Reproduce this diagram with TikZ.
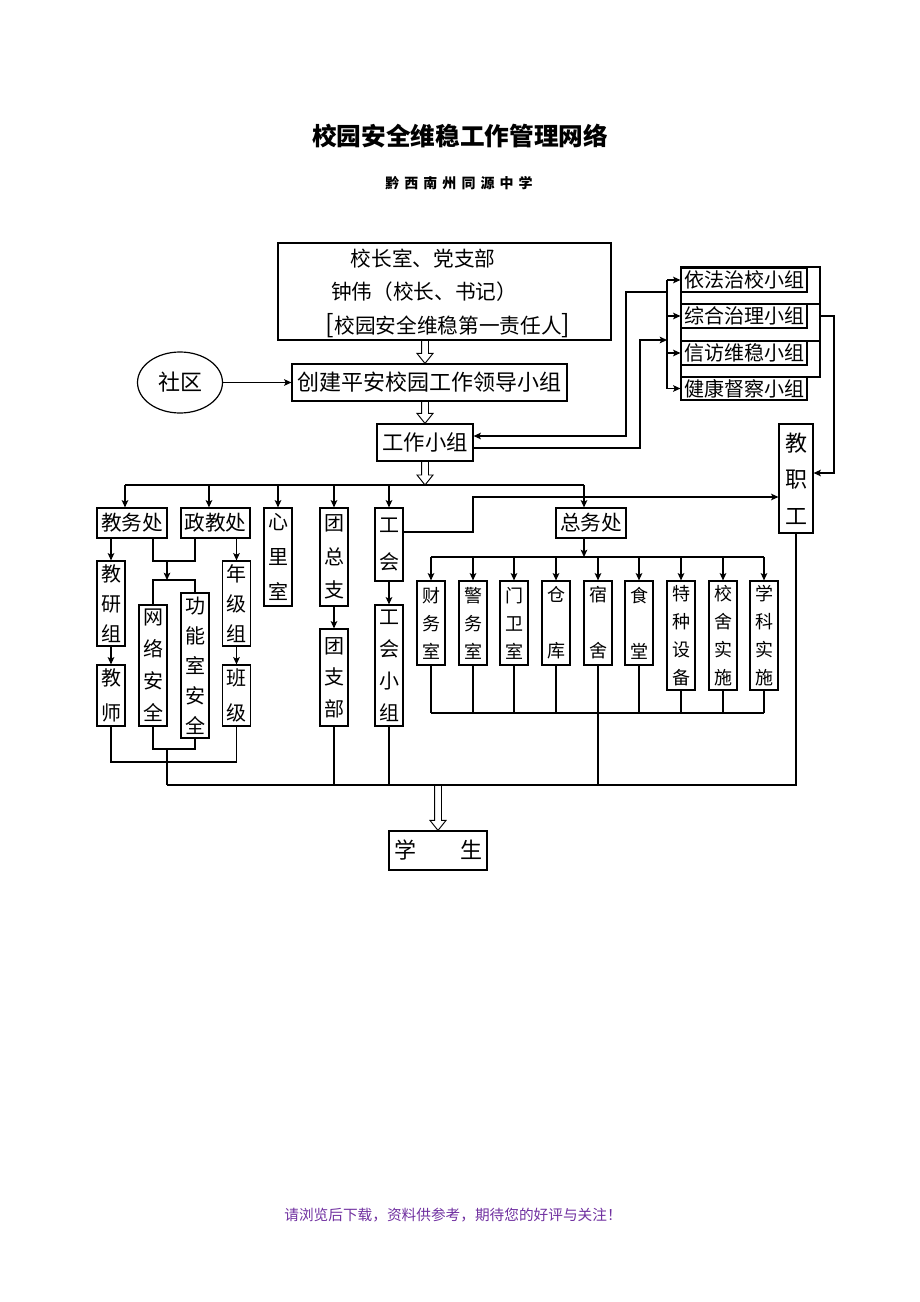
\documentclass[tikz,border=0pt]{standalone}
\usepackage{fontspec}
\setmainfont{Noto Sans CJK SC}
\usetikzlibrary{arrows.meta,calc,shapes.geometric}
\definecolor{footpurple}{RGB}{112,48,160}

\newcommand{\hollowarrow}[2]{%
  \draw[line width=0.7pt] let \p1=(#1), \p2=(#2) in
    (\x1-2.6pt,\y1) -- (\x1-2.6pt,\y2+7.5pt) -- (\x1-6pt,\y2+7.5pt) -- (\x1,\y2)
    -- (\x1+6pt,\y2+7.5pt) -- (\x1+2.6pt,\y2+7.5pt) -- (\x1+2.6pt,\y1);}

\begin{document}
\begin{tikzpicture}[x=0.75pt, y=-0.75pt, line width=0.9pt,
  sz/.style 2 args={minimum width=#1*0.75pt, minimum height=#2*0.75pt},
  box/.style={draw, inner sep=0pt, font=\fontsize{15.5}{18}\selectfont},
  vbox/.style={draw, inner sep=0pt, align=center, font=\fontsize{15}{#1}\selectfont},
  sbox/.style={draw, inner sep=0pt, align=center, font=\fontsize{13.5}{21}\selectfont},
  arr/.style={-{Stealth[length=5.5pt, width=5pt, inset=1.2pt]}}]

  \useasboundingbox (0,0) rectangle (920,1302);

  \node[font=\fontsize{18.5}{20}\selectfont\bfseries] (title) at (460,136) {校园安全维稳工作管理网络};
  \node[font=\fontsize{10.5}{12}\selectfont\bfseries] (sub) at (459,183)
    {黔\hspace{3.8pt}西\hspace{3.8pt}南\hspace{3.8pt}州\hspace{3.8pt}同\hspace{3.8pt}源\hspace{3.8pt}中\hspace{3.8pt}学};

  % leadership
  \node[draw, sz={333}{97}] (xzs) at (444.5,291.5) {};
  \node[font=\fontsize{15.5}{18}\selectfont] (xzs1) at (423,259) {校长室、党支部};
  \node[font=\fontsize{15.5}{18}\selectfont] (xzs2) at (424,292) {钟伟（校长、书记）};
  \node[font=\fontsize{15.5}{18}\selectfont] (xzs3) at (448,326)
    {{\fontsize{19}{19}\selectfont[}校园安全维稳第一责任人{\fontsize{19}{19}\selectfont]}};
  \node[box, font=\fontsize{16.5}{18}\selectfont, sz={275}{37}] (cj) at (429.5,382.5) {创建平安校园工作领导小组};
  \node[draw, ellipse, inner sep=0pt, font=\fontsize{16.5}{18}\selectfont, sz={85}{61}] (sq) at (180,382.5) {社区};
  \node[box, font=\fontsize{16}{18}\selectfont, sz={96}{37}] (gzxz) at (425,442.5) {工作小组};

  % right groups
  \foreach \n/\y/\h in {f1/285.5/37, f2/322.5/37, f3/359/36}
    \node[draw, sz={139}{\h}] (\n) at (750.5,\y) {};
  \node[box, font=\fontsize{15}{18}\selectfont, sz={126}{24}] (yf) at (744,280) {依法治校小组};
  \node[box, font=\fontsize{15}{18}\selectfont, sz={126}{24}] (zh) at (744,316) {综合治理小组};
  \node[box, font=\fontsize{15}{18}\selectfont, sz={126}{24}] (xf) at (744,353) {信访维稳小组};
  \node[box, font=\fontsize{15}{18}\selectfont, sz={126}{23}] (jk) at (744,388.5) {健康督察小组};
  \node[draw, inner sep=0pt, align=center, font=\fontsize{16.5}{27.5}\selectfont, sz={34}{109}] (jzg) at (796,478.5) {教\\职\\工};

  % departments
  \node[box, sz={70}{30}] (jwc) at (132,523) {教务处};
  \node[box, sz={69}{30}] (zjc) at (215.5,523) {政教处};
  \node[vbox=26, sz={28}{98}] (xl) at (278,557) {心\\里\\室};
  \node[vbox=25, sz={28}{98}] (tzz) at (334,557) {团\\总\\支};
  \node[vbox=23.5, sz={28}{97}] (tzb) at (334,677.5) {团\\支\\部};
  \node[vbox=27.5, sz={28}{73}] (gh) at (389,544.5) {工\\会};
  \node[vbox=24, sz={28}{121}] (ghxz) at (389,665.5) {工\\会\\小\\组};
  \node[vbox=22.5, sz={28}{85}] (jyz) at (111,603.5) {教\\研\\组};
  \node[vbox=26, sz={28}{61}] (js) at (111,695.5) {教\\师};
  \node[vbox=22.5, sz={28}{85}] (njz) at (236.5,603.5) {年\\级\\组};
  \node[vbox=26, sz={28}{61}] (bj) at (236.5,695.5) {班\\级};
  \node[vbox=24, sz={28}{121}] (wl) at (153,665.5) {网\\络\\安\\全};
  \node[vbox=22.5, sz={28}{145}] (gn) at (195,665.5) {功\\能\\室\\安\\全};
  \node[box, sz={70}{30}] (zwc) at (591,523) {总务处};

  \foreach \n/\x/\t in {cw/431/{财\\务\\室}, jw/473/{警\\务\\室}, mw/514/{门\\卫\\室},
                        ck/556/{仓\\[21pt]库}, ss/598/{宿\\[21pt]舍}, st/639/{食\\[21pt]堂}}
    \node[sbox, sz={28}{84}] (\n) at (\x,623) {\t};
  \foreach \n/\x/\t in {tz/681/{特\\种\\设\\备}, xssh/723/{校\\舍\\实\\施}, xk/764/{学\\科\\实\\施}}
    \node[sbox, sz={28}{109}] (\n) at (\x,635.5) {\t};

  \node[box, font=\fontsize{16.5}{18}\selectfont, sz={98}{39}] (xs) at (438,850.5) {学\hspace{33pt}生};

  % top connectors
  \coordinate (t1) at (425,485);
  \hollowarrow{xzs.south -| gzxz.north}{cj.north}
  \hollowarrow{cj.south -| gzxz.north}{gzxz.north}
  \hollowarrow{gzxz.south}{t1}
  \draw[arr] (sq.east) -- (cj.west);

  \coordinate (rx) at (667,340);
  \draw (rx |- yf.west) -- (rx |- jk.west);
  \foreach \n in {yf,zh,xf,jk}
    \draw[arr] (rx |- \n.west) -- (\n.west);
  \coordinate (k1) at (640,448);
  \draw[arr] (gzxz.east |- k1) -- (k1) |- (rx);
  \coordinate (k2) at (626,292);
  \coordinate (k3) at (626,436);
  \draw[arr] (rx |- k2) -- (k2) -- (k3) -- (gzxz.east |- k3);
  \coordinate (k4) at (834,473);
  \draw[arr] (f2.east |- zh.east) -| (k4) -- (jzg.east |- k4);

  \coordinate (a1) at ([xshift=-5.25pt]jwc.north);
  \coordinate (a2) at ([xshift=-4.9pt]zjc.north);
  \coordinate (a6) at ([xshift=-5.25pt]zwc.north);
  \draw (a1 |- t1) -- (a6 |- t1);
  \foreach \n in {a1,a2,xl.north,tzz.north,gh.north,a6}
    \draw[arr] (\n |- t1) -- (\n);

  \coordinate (k5) at (473,532);
  \coordinate (k6) at (473,497);
  \draw[arr] (gh.east |- k5) -- (k5) -- (k6) -- (jzg.west |- k6);

  % general affairs
  \coordinate (z1) at ([xshift=-5.25pt]zwc.south);
  \coordinate (zb) at (584,557);
  \coordinate (zd) at (598,713);
  \draw[arr] (z1) -- (z1 |- zb);
  \draw (cw.north |- zb) -- (xk.north |- zb);
  \foreach \n in {cw,jw,mw,ck,ss,st,tz,xssh,xk}{
    \draw[arr] (\n.north |- zb) -- (\n.north);
    \draw (\n.south) -- (\n.south |- zd);
  }
  \draw (cw.south |- zd) -- (xk.south |- zd);

  % left groups
  \draw[arr] (jyz.north |- jwc.south) -- (jyz.north);
  \draw[arr] (jyz.south) -- (js.north);
  \draw[arr] (njz.north |- zjc.south) -- (njz.north);
  \draw[arr] (njz.south) -- (bj.north);
  \draw[arr] (tzz.south) -- (tzb.north);
  \draw[arr] (gh.south) -- (ghxz.north);
  \coordinate (j1) at (167,561);
  \coordinate (j2) at (167,580);
  \draw (wl.north |- jwc.south) |- (j1) -| (gn.north |- zjc.south);
  \draw[arr] (j1) -- (j2);
  \draw (wl.north) |- (j2) -| (gn.north);

  % bottom
  \coordinate (j3) at (167,749);
  \coordinate (j4) at (167,762);
  \coordinate (b1) at (167,785);
  \draw (wl.south) |- (j3) -| (gn.south);
  \draw (js.south) |- (j4) -| (bj.south);
  \draw (j3) -- (b1);
  \draw (jzg.south) |- (b1);
  \foreach \n in {tzb,ghxz,ss}
    \draw (\n.south) -- (\n.south |- b1);
  \hollowarrow{xs.north |- b1}{xs.north}

  \node[font=\fontsize{11}{12}\selectfont, text=footpurple] (foot) at (453,1215)
    {请浏览后下载，资料供参考，期待您的好评与关注！};
\end{tikzpicture}
\end{document}
